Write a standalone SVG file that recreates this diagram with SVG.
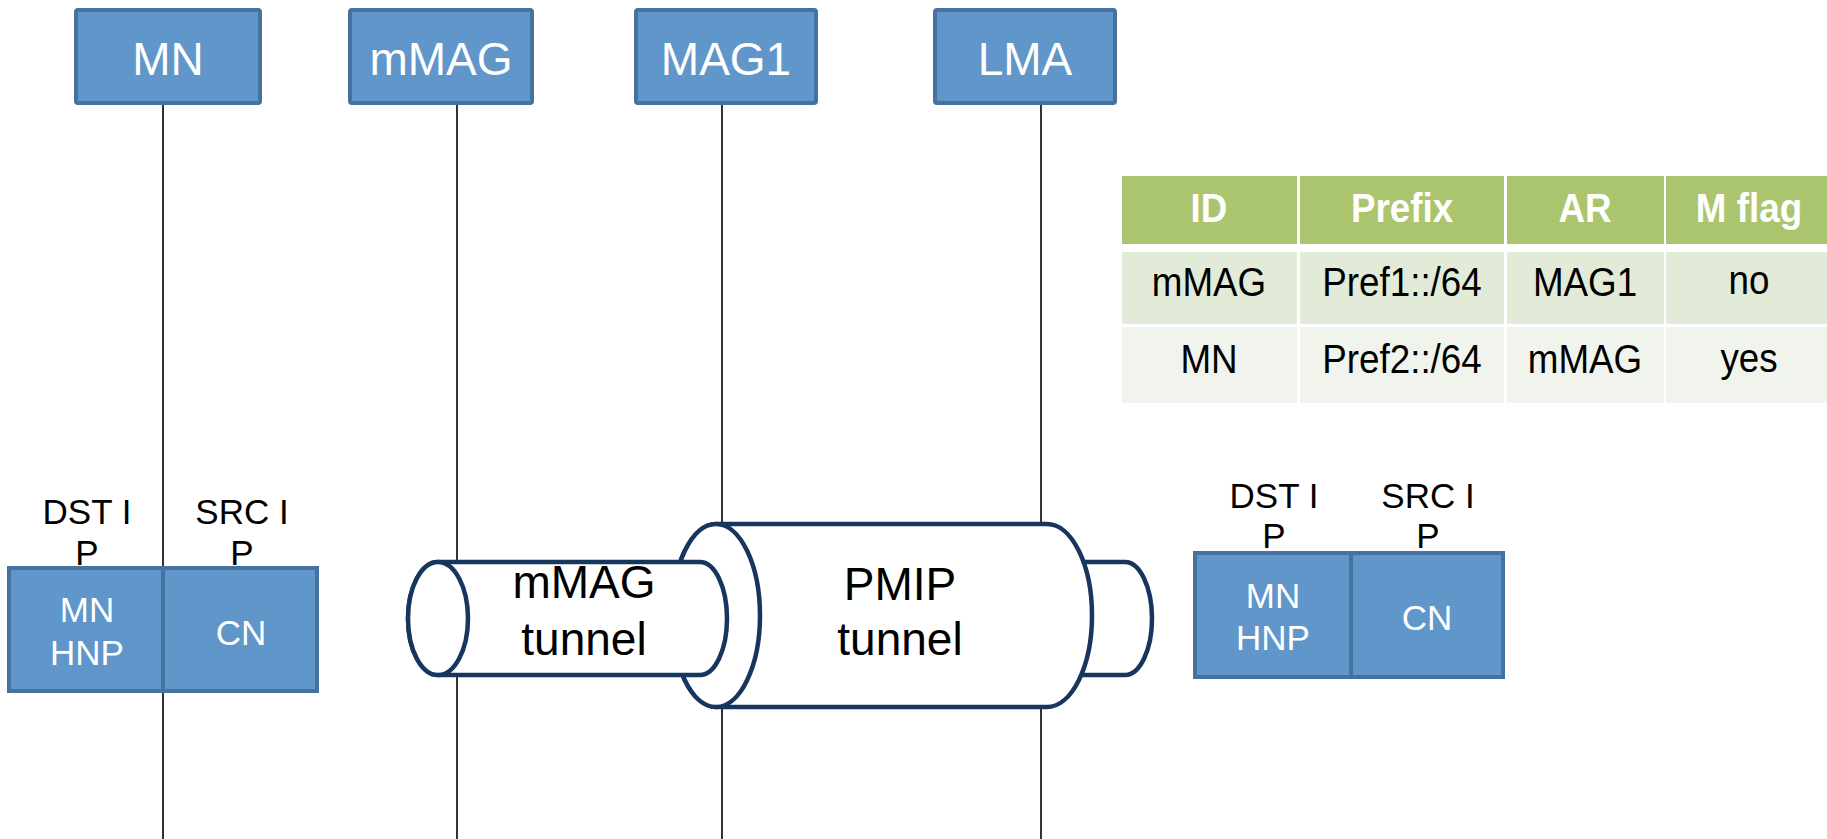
<svg xmlns="http://www.w3.org/2000/svg" width="1827" height="839" viewBox="0 0 1827 839">
<style>
.box{fill:#6096C9;stroke:#46729F;stroke-width:4}
.ht{font-family:"Liberation Sans",Arial,sans-serif;font-size:46px;fill:#fff;text-anchor:middle}
.pt{font-family:"Liberation Sans",Arial,sans-serif;font-size:35px;fill:#fff;text-anchor:middle}
.lt{font-family:"Liberation Sans",Arial,sans-serif;font-size:35px;fill:#000;text-anchor:middle}
.tt{font-family:"Liberation Sans",Arial,sans-serif;font-size:46px;fill:#000;text-anchor:middle}
.life{stroke:#000;stroke-width:1.6;fill:none}
.can{fill:#fff;stroke:#17365D;stroke-width:4.5}
.th{fill:#ABC56F}
.r1{fill:#E2EAD8}
.r2{fill:#F1F4EC}
.tbh{font-family:"Liberation Sans",Arial,sans-serif;font-size:40px;font-weight:bold;fill:#fff;text-anchor:middle}
.tbt{font-family:"Liberation Sans",Arial,sans-serif;font-size:40px;fill:#000;text-anchor:middle}
</style>
<rect width="1827" height="839" fill="#fff"/>
<g id="connectors">
<line class="life" x1="163" y1="104" x2="163" y2="839"/>
<line class="life" x1="457" y1="104" x2="457" y2="839"/>
<line class="life" x1="722" y1="104" x2="722" y2="839"/>
<line class="life" x1="1041" y1="104" x2="1041" y2="839"/>
</g>
<g id="node-MN"><rect class="box" x="76" y="10" width="184" height="93" rx="2"/><text class="ht" x="168" y="75">MN</text></g>
<g id="node-mMAG"><rect class="box" x="350" y="10" width="182" height="93" rx="2"/><text class="ht" x="441" y="75">mMAG</text></g>
<g id="node-MAG1"><rect class="box" x="636" y="10" width="180" height="93" rx="2"/><text class="ht" x="726" y="75">MAG1</text></g>
<g id="node-LMA"><rect class="box" x="935" y="10" width="180" height="93" rx="2"/><text class="ht" x="1025" y="75">LMA</text></g>
<g id="table">
<rect class="th" x="1122" y="176" width="175" height="68"/>
<rect class="th" x="1300" y="176" width="204" height="68"/>
<rect class="th" x="1507" y="176" width="157" height="68"/>
<rect class="th" x="1666" y="176" width="170" height="68"/>
<rect class="r1" x="1122" y="252" width="175" height="72"/>
<rect class="r1" x="1300" y="252" width="204" height="72"/>
<rect class="r1" x="1507" y="252" width="157" height="72"/>
<rect class="r1" x="1666" y="252" width="170" height="72"/>
<rect class="r2" x="1122" y="327" width="175" height="76"/>
<rect class="r2" x="1300" y="327" width="204" height="76"/>
<rect class="r2" x="1507" y="327" width="157" height="76"/>
<rect class="r2" x="1666" y="327" width="170" height="76"/>
<text class="tbh" transform="translate(1209 222) scale(0.92 1)">ID</text>
<text class="tbh" transform="translate(1402 222) scale(0.92 1)">Prefix</text>
<text class="tbh" transform="translate(1585 222) scale(0.92 1)">AR</text>
<text class="tbh" transform="translate(1749 222) scale(0.92 1)">M flag</text>
<text class="tbt" transform="translate(1209 296) scale(0.92 1)">mMAG</text>
<text class="tbt" transform="translate(1402 296) scale(0.92 1)">Pref1::/64</text>
<text class="tbt" transform="translate(1585 296) scale(0.92 1)">MAG1</text>
<text class="tbt" transform="translate(1749 294) scale(0.92 1)">no</text>
<text class="tbt" transform="translate(1209 373) scale(0.92 1)">MN</text>
<text class="tbt" transform="translate(1402 373) scale(0.92 1)">Pref2::/64</text>
<text class="tbt" transform="translate(1585 373) scale(0.92 1)">mMAG</text>
<text class="tbt" transform="translate(1749 372) scale(0.92 1)">yes</text>
</g>
<g id="packet-left">
<text class="lt" x="87" y="524">DST I</text><text class="lt" x="87" y="565">P</text>
<text class="lt" x="242" y="524">SRC I</text><text class="lt" x="242" y="565">P</text>
<rect class="box" x="9" y="568" width="154" height="123"/>
<rect class="box" x="163" y="568" width="154" height="123"/>
<text class="pt" x="87" y="622">MN</text><text class="pt" x="87" y="665">HNP</text>
<text class="pt" x="241" y="645">CN</text>
</g>
<g id="packet-right">
<text class="lt" x="1274" y="508">DST I</text><text class="lt" x="1274" y="548">P</text>
<text class="lt" x="1428" y="508">SRC I</text><text class="lt" x="1428" y="548">P</text>
<rect class="box" x="1195" y="553" width="156" height="124"/>
<rect class="box" x="1351" y="553" width="152" height="124"/>
<text class="pt" x="1273" y="608">MN</text><text class="pt" x="1273" y="650">HNP</text>
<text class="pt" x="1427" y="630">CN</text>
</g>
<g id="mMAG-tunnel-exit">
<path class="can" d="M1000,562 L1125,562 A27,56.5 0 0 1 1125,675 L1000,675 Z"/>
</g>
<g id="PMIP-tunnel">
<path class="can" d="M716,524 L1047,524 A45,91.5 0 0 1 1047,707 L716,707 A44,91.5 0 0 1 716,524 Z"/>
<ellipse class="can" cx="716" cy="615.5" rx="44" ry="91.5"/>
</g>
<g id="mMAG-tunnel">
<path class="can" d="M438,562 L700,562 A27,56.5 0 0 1 700,675 L438,675 A30,56.5 0 0 1 438,562 Z"/>
<ellipse class="can" cx="438" cy="618.5" rx="30" ry="56.5"/>
<text class="tt" x="584" y="598">mMAG</text><text class="tt" x="584" y="655">tunnel</text>
</g>
<g id="PMIP-label">
<text class="tt" x="900" y="600">PMIP</text><text class="tt" x="900" y="655">tunnel</text>
</g>
</svg>
